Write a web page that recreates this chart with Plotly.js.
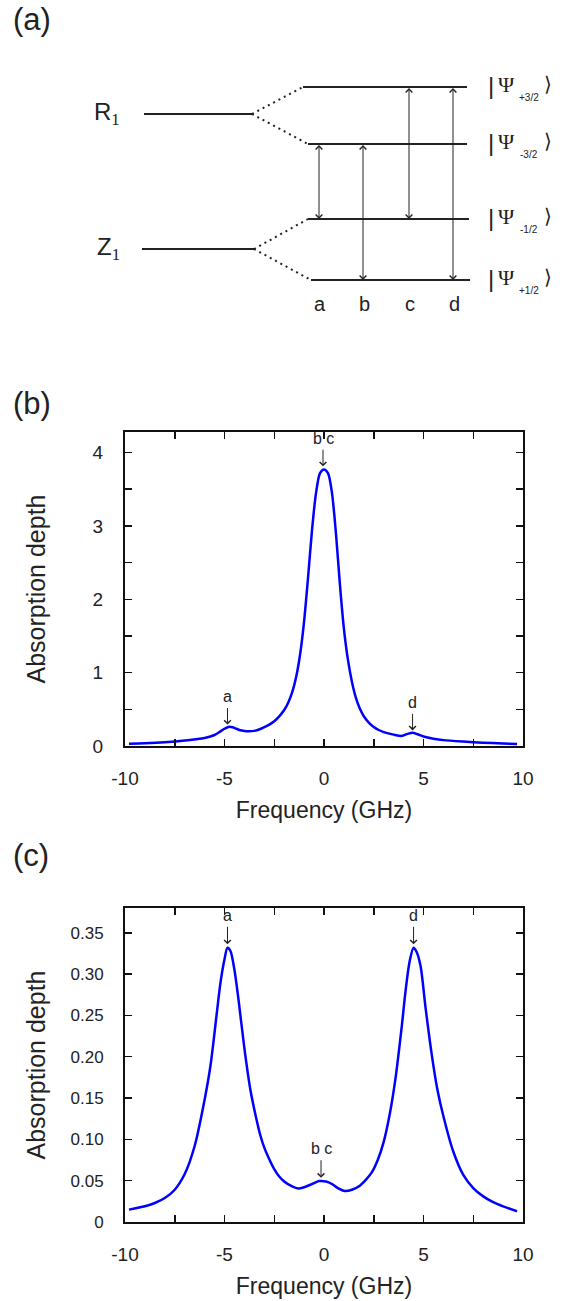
<!DOCTYPE html>
<html>
<head>
<meta charset="utf-8">
<script src="https://cdn.plot.ly/plotly-3.0.1.min.js"></script>
<style>html,body{margin:0;padding:0;background:#fff;}#chart{width:569px;height:1301px;}</style>
</head>
<body>
<div id="chart"></div>
<script>
// ---------------- DATA ----------------
// Panel (b): absorption depth vs frequency
const freqB = [-9.8,-9,-8,-7,-6,-5.5,-5.2,-5,-4.8,-4.6,-4.4,-4.2,-4,-3.8,-3.5,-3.2,-3,-2.75,-2.5,-2.25,-2,-1.8,-1.6,-1.4,-1.2,-1,-0.8,-0.6,-0.4,-0.2,0,0.2,0.4,0.6,0.8,1,1.2,1.4,1.6,1.8,2,2.25,2.5,2.75,3,3.5,3.9,4.2,4.45,4.7,5,5.5,6,7,8,9,9.7];
const absB  = [0.03,0.036,0.05,0.074,0.11,0.15,0.2,0.235,0.26,0.255,0.235,0.215,0.205,0.2,0.206,0.232,0.258,0.292,0.338,0.405,0.49,0.59,0.73,0.94,1.25,1.7,2.3,2.95,3.45,3.72,3.77,3.72,3.45,2.9,2.2,1.6,1.18,0.88,0.66,0.51,0.405,0.32,0.26,0.218,0.19,0.155,0.138,0.165,0.18,0.16,0.13,0.1,0.08,0.06,0.045,0.035,0.027];
// Panel (c)
const freqC = [-9.8,-9,-8.5,-8,-7.5,-7,-6.5,-6,-5.7,-5.4,-5.2,-5,-4.85,-4.7,-4.5,-4.3,-4,-3.7,-3.4,-3.2,-3,-2.75,-2.5,-2.25,-2,-1.6,-1.3,-1,-0.6,-0.25,0.1,0.4,0.7,1.05,1.4,1.8,2.1,2.4,2.7,3,3.3,3.6,3.9,4.1,4.3,4.5,4.65,4.85,5.1,5.4,5.7,6,6.5,7,7.5,8,8.5,9,9.7];
const absC  = [0.015,0.019,0.023,0.029,0.039,0.058,0.092,0.148,0.19,0.25,0.29,0.318,0.332,0.328,0.305,0.27,0.21,0.16,0.125,0.105,0.09,0.076,0.064,0.055,0.049,0.043,0.0405,0.042,0.046,0.0495,0.049,0.046,0.041,0.0375,0.039,0.044,0.051,0.06,0.075,0.097,0.13,0.175,0.235,0.28,0.315,0.332,0.327,0.31,0.26,0.205,0.16,0.128,0.085,0.057,0.041,0.031,0.024,0.019,0.013];

// Peak labels (transition letters) on the spectra
const peakTextB = ['a','b c','d'];
const peakXB    = [-4.85, -0.05, 4.45];
const peakYB    = [0.26, 3.78, 0.18];
const peakTextC = ['a','b c','d'];
const peakXC    = [-4.85, -0.15, 4.5];
const peakYC    = [0.333, 0.0505, 0.333];

// Axis ticks
const xTickVals = [-10,-7.5,-5,-2.5,0,2.5,5,7.5,10];
const xTickText = ['-10','','-5','','0','','5','','10'];
const yTickValsB = [0,0.5,1,1.5,2,2.5,3,3.5,4];
const yTickTextB = ['0','','1','','2','','3','','4'];
const yTickValsC = [0,0.05,0.1,0.15,0.2,0.25,0.3,0.35];
const yTickTextC = ['0','0.05','0.10','0.15','0.20','0.25','0.30','0.35'];

// Panel (a): energy level scheme
const multiplets   = ['R','Z'];
const multipletSub = ['1','1'];
const stateNames   = ['+3/2','-3/2','-1/2','+1/2'];
const stateParent  = [0,0,1,1];
const transLabels  = ['a','b','c','d'];
const transUpper   = [1,1,0,0];   // index into stateNames
const transLower   = [2,3,2,3];

// ---------------- DIAGRAM GEOMETRY (panel a, in px of the diagram area) ----------------
const geo = {
  multY: [114, 249], multX0: [144, 142], multX1: [252, 254],
  stateY: [87, 144, 219, 280], stateX0: [303, 308, 308, 311], stateX1: [467, 467, 469, 470],
  transX: [319, 363, 409, 453], transLabelY: 304
};

const FONT = 'Liberation Sans, Arial, Helvetica, sans-serif';
const SERIF = 'Liberation Serif, Times New Roman, serif';
const TXT = '#222';

const traces = [];
const annotations = [];

// --- panel (a) traces
for (let i = 0; i < multiplets.length; i++) {
  traces.push({x:[geo.multX0[i], geo.multX1[i]], y:[geo.multY[i], geo.multY[i]], xaxis:'x3', yaxis:'y3',
    mode:'lines', line:{color:'#222', width:2}, hoverinfo:'skip', showlegend:false});
  annotations.push({xref:'x3', yref:'y3', x: 122, y: geo.multY[i] - 1, xanchor:'right', yanchor:'middle',
    text: multiplets[i] + '<span style="font-family:' + SERIF + '"><sub>' + multipletSub[i] + '</sub></span>',
    showarrow:false, font:{family:FONT, size:24, color:TXT}});
}
for (let j = 0; j < stateNames.length; j++) {
  const p = stateParent[j];
  traces.push({x:[geo.multX1[p], geo.stateX0[j]], y:[geo.multY[p], geo.stateY[j]], xaxis:'x3', yaxis:'y3',
    mode:'lines', line:{color:'#222', width:2, dash:'2px,4px'}, hoverinfo:'skip', showlegend:false});
  traces.push({x:[geo.stateX0[j], geo.stateX1[j]], y:[geo.stateY[j], geo.stateY[j]], xaxis:'x3', yaxis:'y3',
    mode:'lines', line:{color:'#222', width:2}, hoverinfo:'skip', showlegend:false});
  // ket label |Ψ_m>
  const yk = geo.stateY[j] - 2;
  annotations.push({xref:'x3', yref:'y3', x: 491, y: yk, xanchor:'center', yanchor:'middle', showarrow:false,
    text:'|', font:{family:FONT, size:24, color:TXT}});
  annotations.push({xref:'x3', yref:'y3', x: 506, y: yk-1, xanchor:'center', yanchor:'middle', showarrow:false,
    text:'Ψ', font:{family:SERIF, size:22, color:TXT}});
  annotations.push({xref:'x3', yref:'y3', x: 529, y: yk+12, xanchor:'center', yanchor:'middle', showarrow:false,
    text: stateNames[j], font:{family:FONT, size:10, color:TXT}});
  annotations.push({xref:'x3', yref:'y3', x: 548, y: yk-1, xanchor:'center', yanchor:'middle', showarrow:false,
    text:'⟩', font:{family:SERIF, size:20, color:TXT}});
}
const ARROW_TXT = ' ';
const ARROW_FONT = {family:FONT, size:1, color:'rgba(0,0,0,0)'};
for (let k = 0; k < transLabels.length; k++) {
  const xt = geo.transX[k];
  annotations.push({xref:'x3', yref:'y3', axref:'x3', ayref:'y3', x: xt, y: geo.stateY[transLower[k]],
    ax: xt, ay: geo.stateY[transUpper[k]], text:ARROW_TXT, font:ARROW_FONT, borderpad:0, showarrow:true, arrowside:'end+start',
    arrowhead:4, startarrowhead:4, arrowsize:1.3, startarrowsize:1.3, arrowwidth:1, arrowcolor:'#222',
    standoff:0, startstandoff:0});
  annotations.push({xref:'x3', yref:'y3', x: xt + 1, y: geo.transLabelY, xanchor:'center', yanchor:'middle',
    showarrow:false, text: transLabels[k], font:{family:FONT, size:20, color:TXT}});
}

// --- spectra
traces.push({x: freqB, y: absB, xaxis:'x', yaxis:'y', mode:'lines',
  line:{color:'#0000ff', width:2.5, shape:'spline', smoothing:0.8}, hoverinfo:'skip', showlegend:false});
traces.push({x: freqC, y: absC, xaxis:'x2', yaxis:'y2', mode:'lines',
  line:{color:'#0000ff', width:2.5, shape:'spline', smoothing:0.8}, hoverinfo:'skip', showlegend:false});

function peakMarks(texts, xs, ys, xr, yr, span) {
  for (let i = 0; i < texts.length; i++) {
    annotations.push({xref:xr, yref:yr, axref:xr, ayref:yr, x: xs[i], y: ys[i] + span*0.02,
      ax: xs[i], ay: ys[i] + span*0.17, text:ARROW_TXT, font:ARROW_FONT, borderpad:0, showarrow:true, arrowhead:4, arrowsize:1.3,
      arrowwidth:1, arrowcolor:'#222', standoff:0});
    annotations.push({xref:xr, yref:yr, x: xs[i], y: ys[i] + span*0.17, xanchor:'center', yanchor:'bottom',
      showarrow:false, text: texts[i], font:{family:FONT, size:16, color:TXT}});
  }
}
peakMarks(peakTextB, peakXB, peakYB, 'x', 'y', 1.6);
peakMarks(peakTextC, peakXC, peakYC, 'x2', 'y2', 0.15);

// panel letters
const panelLetters = ['(a)','(b)','(c)'];
const panelLetterY = [20, 404, 855];
for (let i = 0; i < 3; i++) {
  annotations.push({xref:'paper', yref:'paper', x: 11/569, y: 1 - panelLetterY[i]/1301, xanchor:'left', yanchor:'middle',
    showarrow:false, text: panelLetters[i], font:{family:FONT, size:31, color:TXT}});
}

const W = 569, H = 1301;
function xax(domainPx) {
  return {domain:[domainPx[0]/W, domainPx[1]/W], range:[-10,10], tickvals:xTickVals, ticktext:xTickText,
    ticks:'inside', ticklen:7, tickwidth:1.5, tickcolor:'#111', showline:true, linewidth:2, linecolor:'#111',
    mirror:'ticks', showgrid:false, zeroline:false, ticklabelstandoff:14,
    tickfont:{family:FONT, size:19, color:TXT},
    title:{text:'Frequency (GHz)', font:{family:FONT, size:23, color:TXT}, standoff:14}};
}
function yax(domainPx, range, tv, tt, sz, standoff) {
  return {domain:[1-domainPx[1]/H, 1-domainPx[0]/H], range:range, tickvals:tv, ticktext:tt,
    ticks:'inside', ticklen:7, tickwidth:1.5, tickcolor:'#111', showline:true, linewidth:2, linecolor:'#111',
    mirror:'ticks', showgrid:false, zeroline:false, ticklabelstandoff:16,
    tickfont:{family:FONT, size:sz, color:TXT},
    title:{text:'Absorption depth', font:{family:FONT, size:25, color:TXT}, standoff:standoff}};
}

const layout = {
  width: W, height: H, margin:{l:0, r:0, t:0, b:0}, paper_bgcolor:'#fff', plot_bgcolor:'#fff',
  showlegend:false,
  xaxis: Object.assign(xax([125,523]), {anchor:'y'}),
  yaxis: Object.assign(yax([432,746], [0,4.28], yTickValsB, yTickTextB, 19, 40), {anchor:'x'}),
  xaxis2: Object.assign(xax([125,523]), {anchor:'y2'}),
  yaxis2: Object.assign(yax([908,1222], [0,0.38], yTickValsC, yTickTextC, 17, 18), {anchor:'x2'}),
  xaxis3: {domain:[0,1], range:[0,569], visible:false, fixedrange:true, anchor:'y3'},
  yaxis3: {domain:[1-320/H,1], range:[320,0], visible:false, fixedrange:true, anchor:'x3'},
  annotations: annotations
};

Plotly.newPlot('chart', traces, layout, {staticPlot:true, displayModeBar:false});
</script>
</body>
</html>
